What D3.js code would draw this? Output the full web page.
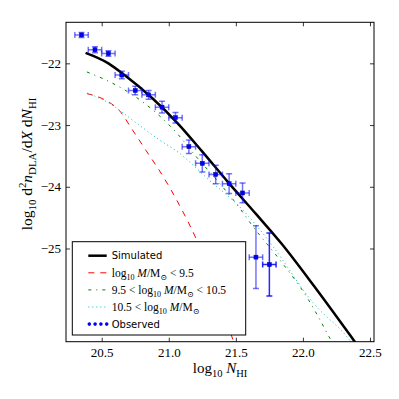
<!DOCTYPE html>
<html>
<head>
<meta charset="utf-8">
<script src="https://cdn.jsdelivr.net/npm/d3@7"></script>
<style>
  html, body { margin: 0; padding: 0; background: #fff; }
</style>
</head>
<body>
<div id="chart"></div>
<script>
// data
const xTicks = [20.5, 21.0, 21.5, 22.0, 22.5]
const yTicks = [-22, -23, -24, -25]

const obsX = [20.35, 20.45, 20.55, 20.65, 20.75, 20.85, 20.95, 21.05, 21.15, 21.25, 21.35, 21.45, 21.55, 21.65, 21.75]
const obsY = [-21.54, -21.78, -21.84, -22.19, -22.44, -22.51, -22.71, -22.88, -23.35, -23.62, -23.80, -23.95, -24.10, -25.14, -25.26]
const obsXErr = [0.05, 0.05, 0.05, 0.05, 0.05, 0.05, 0.05, 0.05, 0.05, 0.05, 0.05, 0.05, 0.05, 0.05, 0.05]
const obsYErr = [0.04, 0.05, 0.045, 0.06, 0.07, 0.07, 0.095, 0.085, 0.11, 0.14, 0.15, 0.16, 0.16, 0.51, 0.51]

const simX = [20.38, 20.55, 20.67, 20.88, 21.07, 21.25, 21.44, 21.65, 21.84, 22.08, 22.38, 22.42]
const simY = [-21.83, -22.00, -22.19, -22.57, -22.98, -23.43, -23.92, -24.44, -24.92, -25.60, -26.49, -26.61]

const lowX = [20.39, 20.53, 20.63, 20.73, 20.83, 20.96, 21.08, 21.21, 21.48, 21.50]
const lowY = [-22.49, -22.60, -22.76, -23.08, -23.41, -23.84, -24.30, -24.87, -26.49, -26.62]

const midX = [20.39, 20.56, 20.73, 20.91, 21.06, 21.20, 21.37, 21.52, 21.63, 21.83, 22.03, 22.21, 22.23]
const midY = [-22.14, -22.30, -22.51, -22.81, -23.13, -23.50, -23.92, -24.32, -24.65, -25.19, -25.79, -26.49, -26.57]

const highX = [20.39, 20.56, 20.73, 20.93, 21.07, 21.29, 21.54, 21.74, 22.08, 22.35, 22.38]
const highY = [-22.48, -22.65, -22.92, -23.24, -23.44, -23.87, -24.35, -24.86, -25.89, -26.49, -26.58]

// size
const W = 399
const H = 399
const margin = { left: 66, right: 25, top: 22.3, bottom: 57.3 }
const width = W - margin.left - margin.right
const height = H - margin.top - margin.bottom

const serif = '"Liberation Serif", "DejaVu Serif", serif'
const sans = '"DejaVu Sans", sans-serif'

// scale
const x = d3.scaleLinear().domain([20.234, 22.53]).range([0, width])
const y = d3.scaleLinear().domain([-26.51, -21.335]).range([height, 0])

// math-ish text from parts: [text, kind], kind in n, i, sub, isub, sup
function mathText(sel, parts, size) {
  let shift = 0
  parts.forEach(([t, kind]) => {
    let target = 0
    let fs = size
    if (kind === 'sub' || kind === 'isub') { target = size * 0.28; fs = size * 0.7 }
    if (kind === 'sup') { target = -size * 0.38; fs = size * 0.7 }
    sel.append('tspan')
      .attr('dy', target - shift)
      .attr('font-size', fs)
      .attr('font-style', kind === 'i' || kind === 'isub' ? 'italic' : 'normal')
      .text(t)
    shift = target
  })
}

const svg = d3.select('#chart')
  .append('svg')
  .attr('width', W)
  .attr('height', H)

const plot = svg.append('g')
  .attr('transform', `translate(${margin.left}, ${margin.top})`)

svg.append('defs').append('clipPath')
  .attr('id', 'clip')
  .append('rect')
  .attr('width', width)
  .attr('height', height)

// curves
const curves = [
  { xs: lowX, ys: lowY, color: '#ff0000', dash: '6,6', w: 1 },
  { xs: midX, ys: midY, color: '#008000', dash: '3,5,1,5', w: 1 },
  { xs: highX, ys: highY, color: '#00bfbf', dash: '1,3', w: 1 },
  { xs: simX, ys: simY, color: '#000', dash: null, w: 2.5 },
]

const line = d3.line()
  .x(d => x(d[0]))
  .y(d => y(d[1]))
  .curve(d3.curveMonotoneX)

const curveG = plot.append('g').attr('clip-path', 'url(#clip)')

curves.forEach(c => {
  curveG.append('path')
    .datum(c.xs.map((v, i) => [v, c.ys[i]]))
    .attr('d', line)
    .attr('fill', 'none')
    .attr('stroke', c.color)
    .attr('stroke-width', c.w)
    .attr('stroke-dasharray', c.dash)
})

// observed points with error bars
const obs = obsX.map((v, i) => ({ x: v, y: obsY[i], ex: obsXErr[i], ey: obsYErr[i], last: i === obsX.length - 1 }))

const errG = curveG.selectAll('g.err')
  .data(obs)
  .enter()
  .append('g')
  .attr('class', 'err')
  .attr('stroke', '#0000ff')
  .attr('stroke-width', 1.5)
  .attr('stroke-opacity', d => d.last ? 0.85 : 0.55)

errG.append('line')
  .attr('x1', d => x(d.x - d.ex)).attr('x2', d => x(d.x + d.ex))
  .attr('y1', d => y(d.y)).attr('y2', d => y(d.y))
errG.append('line')
  .attr('x1', d => x(d.x)).attr('x2', d => x(d.x))
  .attr('y1', d => y(d.y - d.ey)).attr('y2', d => y(d.y + d.ey))
errG.each(function (d) {
  const g = d3.select(this)
  ;[d.x - d.ex, d.x + d.ex].forEach(v => {
    g.append('line')
      .attr('x1', x(v)).attr('x2', x(v))
      .attr('y1', y(d.y) - 3).attr('y2', y(d.y) + 3)
  })
  ;[d.y - d.ey, d.y + d.ey].forEach(v => {
    g.append('line')
      .attr('x1', x(d.x) - 3).attr('x2', x(d.x) + 3)
      .attr('y1', y(v)).attr('y2', y(v))
  })
})

curveG.selectAll('rect.obs')
  .data(obs)
  .enter()
  .append('rect')
  .attr('class', 'obs')
  .attr('x', d => x(d.x) - 2)
  .attr('y', d => y(d.y) - 2)
  .attr('width', 4)
  .attr('height', 4)
  .attr('fill', '#0000ff')
  .attr('stroke', '#00008b')
  .attr('stroke-width', 0.5)

// axes (inside ticks on all sides)
const axisFont = g => g
  .attr('font-family', serif)
  .attr('font-size', 13)
  .call(g => g.select('.domain').remove())
  .call(g => g.selectAll('.tick line').attr('stroke', '#000').attr('stroke-width', 0.8))

plot.append('g')
  .attr('transform', `translate(0, ${height})`)
  .call(d3.axisBottom(x).tickValues(xTicks).tickSize(-4).tickPadding(6).tickFormat(d3.format('.1f')))
  .call(axisFont)

plot.append('g')
  .call(d3.axisTop(x).tickValues(xTicks).tickSize(-4).tickFormat(''))
  .call(axisFont)

plot.append('g')
  .call(d3.axisLeft(y).tickValues(yTicks).tickSize(-4).tickPadding(5).tickFormat(d => '\u2212' + Math.abs(d)))
  .call(axisFont)

plot.append('g')
  .attr('transform', `translate(${width}, 0)`)
  .call(d3.axisRight(y).tickValues(yTicks).tickSize(-4).tickFormat(''))
  .call(axisFont)

// frame
plot.append('rect')
  .attr('width', width)
  .attr('height', height)
  .attr('fill', 'none')
  .attr('stroke', '#000')
  .attr('stroke-width', 1)

// legend
const legendItems = [
  { kind: 'line', color: '#000', dash: null, w: 2.5, label: [['Simulated', 'sans']] },
  { kind: 'line', color: '#ff0000', dash: '6,6', w: 1, label: [['log', 'n'], ['10', 'sub'], [' M', 'i'], ['/M', 'n'], ['\u2299', 'sub'], [' < 9.5', 'n']] },
  { kind: 'line', color: '#008000', dash: '3,5,1,5', w: 1, label: [['9.5 < log', 'n'], ['10', 'sub'], [' M', 'i'], ['/M', 'n'], ['\u2299', 'sub'], [' < 10.5', 'n']] },
  { kind: 'line', color: '#00bfbf', dash: '1,3', w: 1, label: [['10.5 < log', 'n'], ['10', 'sub'], [' M', 'i'], ['/M', 'n'], ['\u2299', 'sub']] },
  { kind: 'dots', color: '#0000ff', label: [['Observed', 'sans']] },
]

const legend = svg.append('g').attr('transform', 'translate(72.3, 241.7)')

legend.append('rect')
  .attr('width', 173.4)
  .attr('height', 93.3)
  .attr('fill', '#fff')
  .attr('stroke', '#000')
  .attr('stroke-width', 1)

legendItems.forEach((item, i) => {
  const row = legend.append('g').attr('transform', `translate(0, ${14 + 17.1 * i})`)
  if (item.kind === 'line') {
    row.append('line')
      .attr('x1', 16).attr('x2', 34.4)
      .attr('y1', 0).attr('y2', 0)
      .attr('stroke', item.color)
      .attr('stroke-width', item.w)
      .attr('stroke-dasharray', item.dash)
  } else {
    ;[0, 1, 2, 3].forEach(k => {
      row.append('circle')
        .attr('cx', 17 + k * 5.8).attr('cy', 0)
        .attr('r', 1.8)
        .attr('fill', item.color)
    })
  }
  const txt = row.append('text')
    .attr('x', 39.4)
    .attr('y', 3.7)
    .attr('fill', '#000')
  if (item.label[0][1] === 'sans') {
    txt.attr('font-family', sans).attr('font-size', 10).text(item.label[0][0])
  } else {
    txt.attr('font-family', serif)
    mathText(txt, item.label, 11.5)
  }
})

// x-axis label
const xLab = svg.append('text')
  .attr('x', margin.left + width / 2)
  .attr('y', 373)
  .attr('text-anchor', 'middle')
  .attr('font-family', serif)
mathText(xLab, [['log', 'n'], ['10', 'sub'], [' N', 'i'], ['HI', 'sub']], 15)

// y-axis label
const yLab = svg.append('text')
  .attr('text-anchor', 'middle')
  .attr('font-family', serif)
  .attr('transform', 'translate(31.5, 164) rotate(-90)')
mathText(yLab, [['log', 'n'], ['10', 'sub'], [' d', 'n'], ['2', 'sup'], ['n', 'i'], ['DLA', 'sub'], ['/d', 'n'], ['X', 'i'], [' d', 'n'], ['N', 'i'], ['HI', 'sub']], 15.5)
</script>
</body>
</html>
